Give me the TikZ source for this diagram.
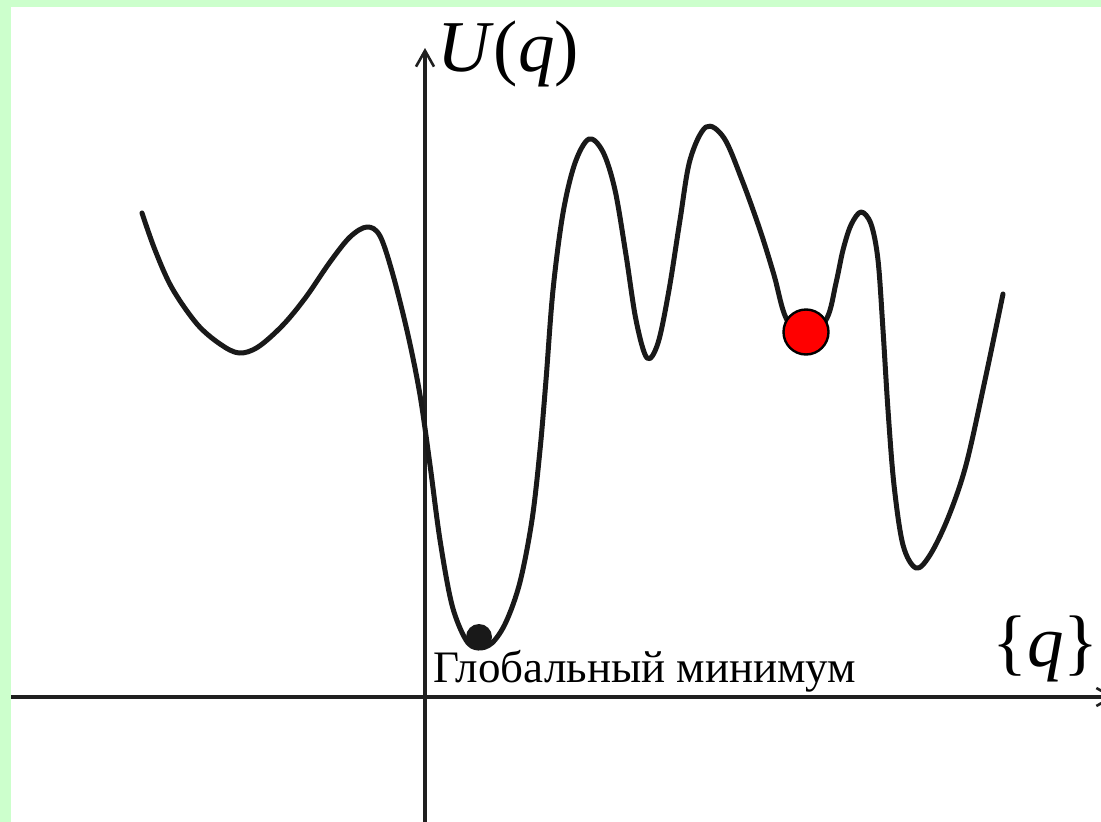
\documentclass[tikz,border=0pt]{standalone}
\usepackage{fontspec}
\newfontfamily\tnr{Liberation Serif}
\usetikzlibrary{arrows.meta}
\definecolor{bggreen}{HTML}{CCFFCC}
\tikzset{
  yaxisline/.style={line width=3.4pt, draw=black!88},
  xaxisline/.style={line width=4pt, draw=black!88},
  potcurve/.style={line width=5pt, draw=black!90, line join=round, line cap=round},
  ball/.style={circle, inner sep=0pt, minimum size=#1},
  lbl/.style={inner sep=0pt, anchor=base west},
  barb/.style={-{Straight Barb[length=16pt,width=18pt,line width=2.6pt]}}
}
\begin{document}
\begin{tikzpicture}[x=1pt, y=-1pt]
\useasboundingbox (0,0) rectangle (1101,822);
\clip (0,0) rectangle (1101,822);
\fill[bggreen] (0,0) rectangle (1101,822);
\fill[white] (11,7) rectangle (1101,822);
% axes
\coordinate (ybot) at (425,822);
\coordinate (ytop) at (425,48);
\coordinate (xl) at (11,697);
\coordinate (xr) at (1115,697);
\draw[yaxisline, barb] (ybot) -- (ytop);
\draw[xaxisline, barb] (xl) -- (xr);
% curve
\draw[potcurve] plot[smooth, tension=0.55] coordinates {
(142,213) (155,250) (172,288) (197,324) (220,344) (239,353) (258,347) (283,325)
(306,297) (330,262) (350,237) (367,227) (380,236) (393,275) (408,335) (420,395)
(430,465) (440,540) (452,605) (466,640) (478,648) (492,643) (506,622) (520,582)
(532,520) (540,450) (546,380) (553,290) (563,213) (575,163) (589,139) (603,152)
(615,190) (626,255) (636,320) (647,358) (658,343) (669,290) (680,220) (690,160)
(706,127) (724,138) (742,180) (760,230) (774,275) (786,318) (806,342) (827,318)
(836,283) (843,250) (851,225) (861,212) (871,224) (878,260) (883,330) (888,410)
(894,485) (903,545) (916,568) (930,555) (948,518) (966,465) (985,380) (1003,294)};
% balls
\node[ball=26pt, fill=black!90] (gmin) at (479,637) {};
\node[ball=45pt, fill=red, draw=black, line width=2.4pt] (lmin) at (806,332) {};
% labels
\node[lbl, font=\tnr\fontsize{73}{80}\selectfont] (U) at (437,71) {\textit{U}(\textit{q})};
\node[lbl, font=\tnr\fontsize{73}{80}\selectfont] (Q) at (992,666) {\{\textit{q}\}};
\node[lbl, font=\tnr\fontsize{45}{50}\selectfont] (glob) at (433,682) {Глобальный минимум};
\end{tikzpicture}
\end{document}
